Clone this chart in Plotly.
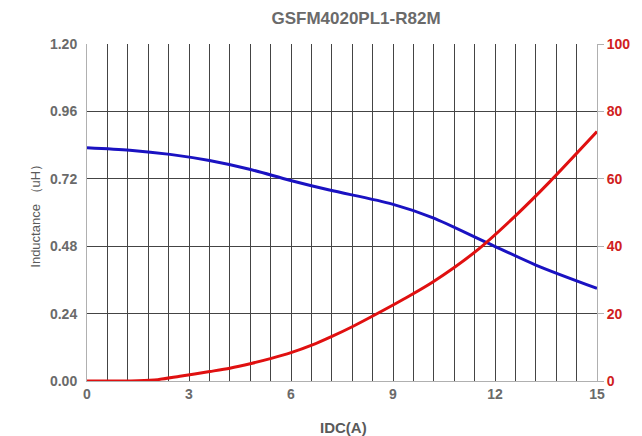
import plotly.graph_objects as go

# Data
idc_L = [0, 1.26, 2.44, 3.6, 4.78, 5.96, 7.13, 8.98, 10.16, 11.74, 13.2, 15]
inductance = [0.831, 0.822, 0.807, 0.785, 0.754, 0.715, 0.680, 0.630, 0.582, 0.494, 0.413, 0.330]

idc_T = [0, 1.5, 2.08, 2.73, 3.61, 4.2, 4.83, 5.42, 6.0, 6.63, 7.22, 7.8, 8.5, 9.28, 10.16, 11.45, 12.6, 13.6, 15]
temp_rise = [0, 0.1, 0.4, 1.4, 2.8, 3.8, 5.2, 6.7, 8.4, 10.7, 13.3, 16.1, 19.8, 24.1, 29.3, 38.6, 49.0, 59.0, 74.0]

x_ticks = [0, 3, 6, 9, 12, 15]
y_ticks = [0, 0.24, 0.48, 0.72, 0.96, 1.20]
y2_ticks = [0, 20, 40, 60, 80, 100]

title_text = "GSFM4020PL1-R82M"
font = "Liberation Sans, Arial, sans-serif"

fig = go.Figure()
fig.add_trace(go.Scatter(x=idc_L, y=inductance, mode="lines",
                         line=dict(color="#1a12c2", width=3, shape="spline", smoothing=0.8),
                         yaxis="y", showlegend=False))
fig.add_trace(go.Scatter(x=idc_T, y=temp_rise, mode="lines",
                         line=dict(color="#e01010", width=3, shape="spline", smoothing=0.8),
                         yaxis="y2", showlegend=False))

grid = "#444444"
fig.update_layout(
    width=642, height=436,
    margin=dict(l=87, r=43, t=44, b=55),
    paper_bgcolor="white", plot_bgcolor="white",
    title=dict(text="<b>" + title_text + "</b>", x=356 / 642, xanchor="center",
               y=1 - 18 / 436, yanchor="middle", yref="container", xref="container",
               font=dict(family=font, size=17, color="#6a6a6a")),
    xaxis=dict(range=[0, 15], tickvals=x_ticks, ticktext=["<b>%d</b>" % v for v in x_ticks],
               showgrid=True, gridcolor=grid, gridwidth=1,
               minor=dict(dtick=0.6, tick0=0, showgrid=True, gridcolor=grid, gridwidth=1),
               showline=True, linecolor="#b0b0b0", linewidth=1, mirror=False,
               ticks="", zeroline=False,
               tickfont=dict(family=font, size=14, color="#6a6a6a")),
    yaxis=dict(range=[0, 1.2], tickvals=y_ticks, ticktext=["<b>%.2f</b>" % v for v in y_ticks],
               showgrid=True, gridcolor=grid, gridwidth=1,
               showline=True, linecolor="#b0b0b0", linewidth=1,
               ticks="outside", ticklen=6, tickcolor="white",
               zeroline=False,
               tickfont=dict(family=font, size=14, color="#6a6a6a")),
    yaxis2=dict(range=[0, 100], tickvals=y2_ticks, ticktext=["<b>%d</b>" % v for v in y2_ticks],
                overlaying="y", side="right", showgrid=False,
                showline=True, linecolor="#b0b0b0", linewidth=1,
                ticks="outside", ticklen=6, tickcolor="#b0b0b0",
                zeroline=False,
                tickfont=dict(family=font, size=14, color="#d02020")),
    annotations=[
        dict(text="<b>IDC(A)</b>", x=(345 - 87) / 512, xref="paper", y=-(427 - 381) / 337,
             yref="paper", yanchor="middle", xanchor="center", showarrow=False,
             font=dict(family=font, size=15, color="#5a5a5a")),
        dict(text="Inductance （uH）", x=-(87 - 35) / 512, y=0.5, xref="paper", yref="paper",
             xanchor="center", showarrow=False, textangle=-90,
             font=dict(family=font, size=13, color="#5a5a5a")),
    ],
)

fig.write_html("out.html")
